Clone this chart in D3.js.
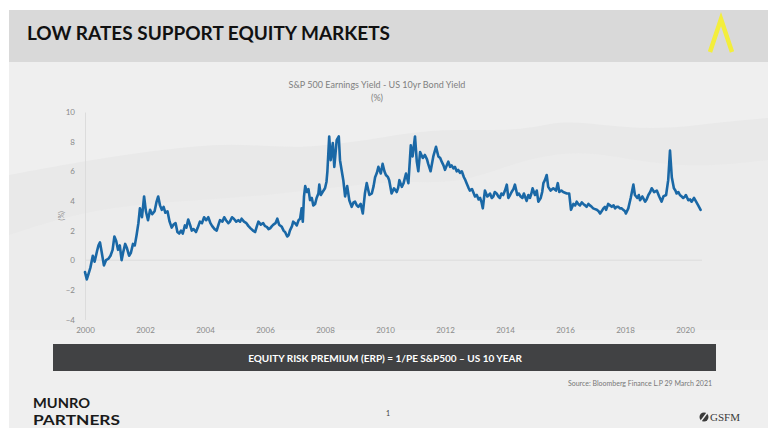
<!DOCTYPE html>
<html>
<head>
<meta charset="utf-8">
<script src="https://cdn.jsdelivr.net/npm/d3@7"></script>
<style>
  html, body { margin: 0; padding: 0; background: #ffffff; }
  svg { display: block; }
</style>
</head>
<body>
<svg id="slide" width="768" height="428"></svg>
<script>
// S&P 500 earnings yield minus US 10yr bond yield, in percent
const dates = [
  2000.00,2000.06,2000.12,2000.18,2000.26,2000.32,2000.40,2000.45,2000.50,2000.56,2000.63,2000.70,2000.78,2000.85,2000.92,2000.98,
  2001.04,2001.10,2001.16,2001.22,2001.28,2001.34,2001.40,2001.47,2001.53,2001.60,2001.66,2001.72,2001.78,2001.83,2001.90,2001.97,
  2002.03,2002.10,2002.17,2002.24,2002.32,2002.38,2002.44,2002.50,2002.56,2002.62,2002.68,2002.75,2002.82,2002.89,2002.95,
  2003.02,2003.08,2003.14,2003.20,2003.26,2003.33,2003.38,2003.44,2003.50,2003.56,2003.62,2003.70,2003.76,2003.83,2003.90,2003.97,
  2004.04,2004.11,2004.18,2004.24,2004.32,2004.39,2004.45,2004.50,2004.58,2004.64,2004.70,2004.78,2004.83,2004.90,2004.96,
  2005.04,2005.11,2005.17,2005.22,2005.30,2005.38,2005.45,2005.52,2005.60,2005.67,2005.73,2005.78,2005.86,2005.94,
  2006.00,2006.06,2006.12,2006.17,2006.23,2006.28,2006.35,2006.41,2006.47,2006.56,2006.62,2006.67,2006.74,2006.79,2006.83,2006.90,2006.94,
  2007.00,2007.06,2007.12,2007.17,2007.22,2007.26,2007.30,2007.34,2007.40,2007.45,2007.50,2007.56,2007.61,2007.67,2007.72,2007.78,2007.81,2007.86,2007.92,
  2008.00,2008.05,2008.08,2008.14,2008.19,2008.26,2008.31,2008.39,2008.46,2008.50,2008.56,2008.61,2008.67,2008.74,2008.81,2008.89,2008.95,
  2009.00,2009.06,2009.11,2009.19,2009.26,2009.33,2009.39,2009.48,2009.56,2009.62,2009.67,2009.73,2009.78,2009.86,2009.92,2009.98,
  2010.03,2010.10,2010.14,2010.22,2010.30,2010.39,2010.44,2010.48,2010.56,2010.62,2010.70,2010.78,2010.86,2010.92,
  2011.00,2011.06,2011.11,2011.17,2011.26,2011.33,2011.40,2011.44,2011.52,2011.61,2011.70,2011.78,2011.84,2011.89,2011.95,
  2012.00,2012.06,2012.11,2012.17,2012.22,2012.28,2012.33,2012.39,2012.44,2012.50,2012.56,2012.63,2012.68,2012.72,2012.78,2012.83,2012.90,2012.94,
  2013.00,2013.06,2013.12,2013.17,2013.22,2013.26,2013.33,2013.41,2013.46,2013.50,2013.56,2013.61,2013.66,2013.72,2013.78,2013.83,2013.88,2013.94,
  2014.00,2014.06,2014.11,2014.17,2014.22,2014.28,2014.33,2014.41,2014.46,2014.52,2014.58,2014.63,2014.72,2014.78,2014.83,2014.88,2014.92,
  2015.00,2015.06,2015.11,2015.19,2015.24,2015.28,2015.33,2015.39,2015.44,2015.52,2015.61,2015.70,2015.76,2015.81,2015.88,2015.94,
  2016.00,2016.06,2016.14,2016.20,2016.28,2016.34,2016.39,2016.44,2016.50,2016.56,2016.61,2016.67,2016.72,2016.78,2016.83,2016.89,2016.94,
  2017.00,2017.06,2017.12,2017.17,2017.22,2017.28,2017.33,2017.37,2017.44,2017.50,2017.56,2017.62,2017.67,2017.72,2017.78,2017.83,2017.89,2017.94,
  2018.00,2018.03,2018.11,2018.19,2018.28,2018.33,2018.41,2018.46,2018.50,2018.58,2018.67,2018.72,2018.78,2018.84,2018.89,2018.97,
  2019.06,2019.14,2019.22,2019.28,2019.37,2019.44,2019.50,2019.56,2019.63,2019.68,2019.72,2019.78,2019.83,2019.89,2019.94,
  2020.00,2020.03,2020.11,2020.17,2020.22,2020.30,2020.37,2020.44,2020.52
];
const erp = [
  -0.8,-1.3,-0.9,-0.5,0.3,-0.1,0.6,1.0,1.2,0.5,-0.35,0.0,0.1,0.3,0.7,1.6,
  1.3,0.7,1.0,0.0,0.6,1.1,0.8,0.3,0.5,1.1,1.0,1.7,2.5,3.5,2.9,4.3,
  3.3,2.7,3.4,3.1,3.3,3.9,4.3,3.7,3.4,3.6,3.2,3.3,2.6,2.2,2.4,
  2.5,1.9,1.8,2.0,1.8,2.35,2.2,2.75,2.4,2.0,2.1,1.9,2.2,2.6,2.5,2.9,
  2.7,2.9,2.5,2.3,2.1,2.0,2.4,2.7,2.6,2.9,2.7,2.5,2.6,2.9,2.8,
  2.6,2.7,2.6,2.8,2.6,2.5,2.3,2.15,2.0,1.9,2.3,2.6,2.4,2.5,
  2.3,2.25,2.1,2.15,2.3,2.4,2.5,2.8,2.4,2.25,2.0,1.9,1.6,1.7,2.0,2.3,2.6,
  2.5,2.35,2.7,2.8,3.5,2.6,4.3,5.0,4.6,4.8,4.05,4.2,3.7,3.8,4.2,4.5,5.1,4.4,4.6,
  4.85,5.3,6.0,8.35,6.75,7.9,6.3,8.1,8.35,6.75,6.0,5.4,4.3,5.0,4.05,3.6,3.9,
  3.95,3.7,3.6,3.8,3.15,4.5,5.2,4.4,4.5,5.0,5.6,5.9,6.3,5.85,6.5,6.0,
  5.75,5.6,5.4,4.5,4.85,4.6,4.9,5.4,4.95,5.2,5.85,5.2,7.75,7.0,
  8.35,6.65,6.0,7.3,6.9,7.1,6.8,6.5,6.0,7.0,7.65,7.0,6.9,6.65,6.4,
  6.1,6.4,6.65,6.3,6.4,6.2,6.3,6.0,6.1,5.9,6.0,5.6,5.4,5.2,4.9,4.7,4.8,4.6,
  4.3,4.4,4.1,4.2,3.9,3.5,4.7,4.3,4.4,4.5,4.2,4.3,4.6,4.5,4.3,4.2,4.5,4.4,
  4.7,5.1,4.2,4.4,4.6,4.8,5.1,4.4,4.5,4.3,4.2,4.5,4.0,4.4,4.2,4.5,4.85,
  4.4,4.7,3.95,4.2,4.6,5.2,5.4,5.75,4.95,4.7,4.85,4.7,5.2,4.6,4.7,4.6,
  4.55,4.5,4.5,3.4,3.8,3.7,3.95,3.8,3.7,3.9,3.8,3.7,3.6,3.8,3.7,3.6,3.5,
  3.45,3.4,3.3,3.15,3.3,3.5,3.6,3.4,3.8,3.7,3.6,3.7,3.5,3.6,3.6,3.5,3.5,3.4,
  3.3,3.15,3.5,4.2,5.1,4.4,4.2,4.4,4.05,4.3,3.95,4.1,4.4,4.6,4.85,4.6,
  4.7,4.3,3.95,4.3,4.4,5.4,7.4,5.6,4.85,4.7,4.5,4.6,4.4,4.3,4.2,
  4.3,4.4,4.05,4.1,3.95,4.2,3.95,3.7,3.4
];
const yTicks = [-4, -2, 0, 2, 4, 6, 8, 10];
const xTicks = [2000, 2002, 2004, 2006, 2008, 2010, 2012, 2014, 2016, 2018, 2020];

const pageTitle = "LOW RATES SUPPORT EQUITY MARKETS";
const chartTitle = ["S&P 500 Earnings Yield - US 10yr Bond Yield", "(%)"];
const formulaText = "EQUITY RISK PREMIUM (ERP) = 1/PE S&P500 \u2013 US 10 YEAR";
const sourceText = "Source: Bloomberg Finance L.P 29 March 2021";

const svg = d3.select("#slide");
const font = "Lato, 'Open Sans', 'DejaVu Sans', sans-serif";

// slide body
svg.append("rect").attr("x", 9).attr("y", 10).attr("width", 759).attr("height", 418).attr("fill", "#efefef");

// faint hazy ridges behind the chart
const ridgeBack = [[9,175],[90,160],[160,150],[230,142],[300,150],[380,138],[440,128],[520,132],[560,120],[600,125],[660,130],[720,122],[768,118]];
const ridgeFront = [[9,235],[70,215],[130,205],[200,200],[270,195],[330,188],[400,180],[460,185],[520,160],[580,150],[630,160],[700,168],[768,160]];
const ridgeArea = d3.area().x(d => d[0]).y0(330).y1(d => d[1]).curve(d3.curveBasis);
svg.append("path").datum(ridgeBack).attr("d", ridgeArea).attr("fill", "#e9e9e9");
svg.append("path").datum(ridgeFront).attr("d", ridgeArea).attr("fill", "#ececec");

// header band
svg.append("rect").attr("x", 9).attr("y", 10).attr("width", 759).attr("height", 52).attr("fill", "#d9d9d9");
svg.append("text").attr("x", 27).attr("y", 40)
  .attr("font-family", font).attr("font-weight", 700).attr("font-size", 19)
  .attr("fill", "#111").attr("textLength", 363).attr("lengthAdjust", "spacingAndGlyphs")
  .text(pageTitle);

// yellow chevron mark
svg.append("path").attr("d", d3.line()([[710, 52], [721, 19], [732, 52]]))
  .attr("fill", "none").attr("stroke", "#f3ee3c").attr("stroke-width", 4.5).attr("stroke-linejoin", "miter");

// chart
const x = d3.scaleLinear().domain([2000, 2020]).range([85, 685]);
const y = d3.scaleLinear().domain([-4, 10]).range([319.5, 112]);

const titleG = svg.append("g").attr("font-family", font).attr("font-size", 9).attr("fill", "#808080").attr("text-anchor", "middle");
chartTitle.forEach((t, i) => titleG.append("text").attr("x", 377).attr("y", 88 + i * 13).text(t));

// zero line
svg.append("line").attr("x1", x(2000)).attr("x2", 702).attr("y1", y(0)).attr("y2", y(0))
  .attr("stroke", "#dcdcdc").attr("stroke-width", 1);

const yAxis = svg.append("g").attr("transform", `translate(${x(2000)},0)`)
  .call(d3.axisLeft(y).tickValues(yTicks).tickSize(0).tickPadding(10));
yAxis.select(".domain").attr("stroke", "#dcdcdc");
yAxis.selectAll("text").attr("font-family", font).attr("font-size", 8).attr("fill", "#8a8a8a");

const xAxis = svg.append("g").attr("transform", `translate(0,${y(-4)})`)
  .call(d3.axisBottom(x).tickValues(xTicks).tickFormat(d3.format("d")).tickSize(0).tickPadding(8));
xAxis.select(".domain").remove();
xAxis.selectAll("text").attr("font-family", font).attr("font-size", 8).attr("fill", "#8a8a8a");

svg.append("text").attr("transform", `translate(64,${y(3)}) rotate(-90)`)
  .attr("text-anchor", "middle").attr("font-family", font).attr("font-size", 7).attr("fill", "#8a8a8a").text("(%)");

const series = dates.map((d, i) => ({ date: d, value: erp[i] }));
svg.append("path").datum(series)
  .attr("d", d3.line().x(d => x(d.date)).y(d => y(d.value)))
  .attr("fill", "none").attr("stroke", "#1a68a6").attr("stroke-width", 2.6)
  .attr("stroke-linejoin", "round").attr("stroke-linecap", "round");

// formula banner
svg.append("rect").attr("x", 53).attr("y", 344).attr("width", 663).attr("height", 27).attr("fill", "#414244");
svg.append("text").attr("x", 385).attr("y", 361.5).attr("text-anchor", "middle")
  .attr("font-family", font).attr("font-weight", 700).attr("font-size", 10).attr("fill", "#ffffff")
  .text(formulaText);

svg.append("text").attr("x", 712).attr("y", 386).attr("text-anchor", "end")
  .attr("font-family", font).attr("font-size", 7).attr("fill", "#777").text(sourceText);

// footer wordmark, two stacked lines
const mark = svg.append("g").attr("font-family", font).attr("font-weight", 700)
  .attr("font-size", 13).attr("fill", "#1a1a1a");
mark.append("text").attr("x", 33).attr("y", 408).attr("textLength", 57).attr("lengthAdjust", "spacingAndGlyphs").text("MUNRO");
mark.append("text").attr("x", 33).attr("y", 425).attr("textLength", 87).attr("lengthAdjust", "spacingAndGlyphs").text("PARTNERS");

svg.append("text").attr("x", 388).attr("y", 416).attr("text-anchor", "middle")
  .attr("font-family", font).attr("font-size", 7).attr("fill", "#444").text("1");

const gsfm = svg.append("g");
gsfm.append("circle").attr("cx", 704).attr("cy", 417).attr("r", 4.5).attr("fill", "#3a3a3a");
gsfm.append("line").attr("x1", 701).attr("y1", 421).attr("x2", 707).attr("y2", 413).attr("stroke", "#efefef").attr("stroke-width", 1.4);
gsfm.append("text").attr("x", 710).attr("y", 421).attr("font-family", "'Liberation Serif', serif").attr("font-size", 11).attr("fill", "#3a3a3a").text("GSFM");
</script>
</body>
</html>
